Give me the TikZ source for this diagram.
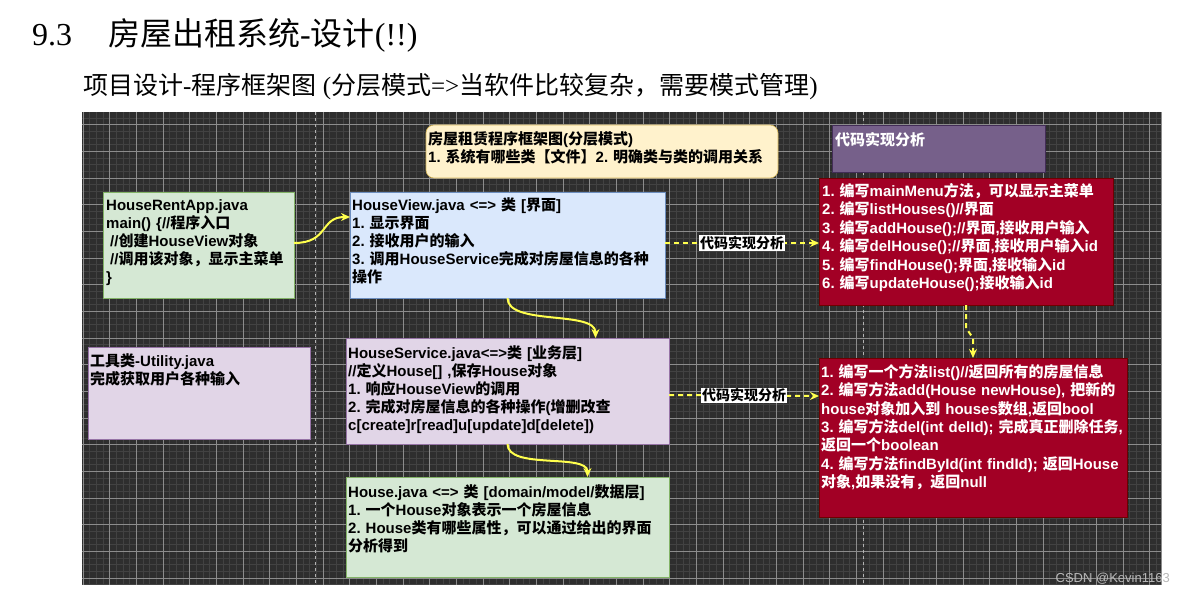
\documentclass[tikz,border=0pt]{standalone}
\usepackage{fontspec}
\setmainfont{Liberation Sans}
\newfontfamily\serifLatin{Liberation Serif}
\newfontfamily\sansLatin{Liberation Sans}
\newfontfamily\cjkfont{Noto Sans CJK SC}
\usetikzlibrary{arrows.meta,calc}

% automatic switch between Latin and CJK fonts
\newXeTeXintercharclass\cjkclass
\newcount\cjkcnt
\cjkcnt="3000
\loop
  \XeTeXcharclass\cjkcnt=\cjkclass
  \advance\cjkcnt by 1
\ifnum\cjkcnt<"3040 \repeat
\cjkcnt="4E00
\loop
  \XeTeXcharclass\cjkcnt=\cjkclass
  \advance\cjkcnt by 1
\ifnum\cjkcnt<"A000 \repeat
\cjkcnt="FF00
\loop
  \XeTeXcharclass\cjkcnt=\cjkclass
  \advance\cjkcnt by 1
\ifnum\cjkcnt<"FFF0 \repeat
\def\cjkswitch{\cjkfont}
\def\latinswitch{\sansLatin}
\XeTeXinterchartoks 0 \cjkclass = {\cjkswitch}
\XeTeXinterchartoks 4095 \cjkclass = {\cjkswitch}
\XeTeXinterchartoks \cjkclass 0 = {\latinswitch}
\XeTeXinterchartoks \cjkclass 4095 = {\latinswitch}
\XeTeXinterchartokenstate=1
\newcommand\serifmode{\def\latinswitch{\serifLatin}\serifLatin}
\frenchspacing

\definecolor{cbg}{HTML}{2E2E2E}
\definecolor{gminorc}{HTML}{424242}
\definecolor{gmajorc}{HTML}{8C8C8C}
\definecolor{cyel}{HTML}{FFF2CC}
\definecolor{cyelD}{HTML}{D6B656}
\definecolor{cblue}{HTML}{DAE8FC}
\definecolor{cblueD}{HTML}{6C8EBF}
\definecolor{cgreen}{HTML}{D5E8D4}
\definecolor{cgreenD}{HTML}{82B366}
\definecolor{cpink}{HTML}{E1D5E7}
\definecolor{cpinkD}{HTML}{9673A6}
\definecolor{cred}{HTML}{A20025}
\definecolor{credD}{HTML}{6F0000}
\definecolor{cpurple}{HTML}{76608A}
\definecolor{cpurpleD}{HTML}{432D57}
\definecolor{carrow}{HTML}{FFFF4D}

\tikzset{
  box/.style={anchor=north west, inner sep=0pt, outer sep=0pt, line width=0.6pt},
  txt/.style={anchor=north west, inner sep=0pt, text width=420pt, align=left,
    font=\bfseries\fontsize{15}{18}\selectfont},
  lbl/.style={fill=white, inner sep=1pt, text=black,
    font=\bfseries\fontsize{14}{16}\selectfont},
  yarrow/.style={draw=carrow, line width=2pt, -{Stealth[length=9pt,width=8pt]}},
  ydash/.style={yarrow, dash pattern=on 5pt off 4pt},
  gminor/.style={draw=gminorc, line width=0.7pt},
  gmajor/.style={draw=gmajorc, line width=1pt},
  guide/.style={draw=white!70!black, line width=0.8pt, dash pattern=on 3pt off 3pt}
}

\begin{document}
\begin{tikzpicture}[x=1pt,y=-1pt]
\useasboundingbox[fill=white] (0,0) rectangle (1184,592);

% ---- headings ----
\node[anchor=base west, inner sep=0pt, font=\serifLatin\fontsize{32}{36}\selectfont] (num) at (32,45) {9.3};
\node[anchor=base west, inner sep=0pt, font=\serifmode\fontsize{32}{36}\selectfont] (title) at (108,45) {房屋出租系统-设计(!!)};
\node[anchor=base west, inner sep=0pt, font=\serifmode\fontsize{25}{28}\selectfont] (sub) at (83,94) {项目设计-程序框架图 (分层模式=>当软件比较复杂，需要模式管理)};

% ---- dark grid canvas ----
\begin{scope}
\clip (82,112) rectangle (1162,585);
\fill[cbg] (82,112) rectangle (1162,585);
\foreach \k in {0,...,162} \draw[gminor] ({83+\k*6.6667},112) -- ({83+\k*6.6667},585);
\foreach \k in {0,...,72} \draw[gminor] (82,{104.67+\k*6.6667}) -- (1162,{104.67+\k*6.6667});
\foreach \k in {0,...,40} \draw[gmajor] ({83+\k*26.6667},112) -- ({83+\k*26.6667},585);
\foreach \k in {0,...,18} \draw[gmajor] (82,{98+\k*26.6667}) -- (1162,{98+\k*26.6667});
\draw[guide] (315,112) -- (315,585);
\draw[guide] (863,112) -- (863,585);
\end{scope}
\draw[gmajor] (1161.5,112) -- (1161.5,585);

% ---- boxes ----
\node[box, fill=cyel, draw=cyelD, rounded corners=8pt, minimum width=352pt, minimum height=53pt] (head) at (426,125) {};
\node[box, fill=cpurple, draw=cpurpleD, minimum width=213pt, minimum height=47pt] (ana) at (832,125) {};
\node[box, fill=cgreen, draw=cgreenD, minimum width=191pt, minimum height=106pt] (app) at (103,192) {};
\node[box, fill=cblue, draw=cblueD, minimum width=315pt, minimum height=106pt] (view) at (350,192) {};
\node[box, fill=cred, draw=credD, minimum width=294pt, minimum height=127pt] (impl1) at (819,178) {};
\node[box, fill=cpink, draw=cpinkD, minimum width=222pt, minimum height=92pt] (util) at (88,347) {};
\node[box, fill=cpink, draw=cpinkD, minimum width=323pt, minimum height=106pt] (svc) at (346,338) {};
\node[box, fill=cred, draw=credD, minimum width=308pt, minimum height=159pt] (impl2) at (819,358) {};
\node[box, fill=cgreen, draw=cgreenD, minimum width=323pt, minimum height=100pt] (house) at (346,477) {};

% ---- box texts ----
\node[txt] (headT) at ($(head.north west)+(2,0)$) {\rule{0pt}{19pt}房屋租赁程序框架图(分层模式)\\1. 系统有哪些类【文件】2. 明确类与类的调用关系};
\node[txt, text=white] (anaT) at ($(ana.north west)+(3,0)$) {\rule{0pt}{20pt}代码实现分析};
\node[txt] (appT) at ($(app.north west)+(3,0)$) {\rule{0pt}{18pt}HouseRentApp.java\\main() \{//程序入口\\\hspace*{4pt}//创建HouseView对象\\\hspace*{4pt}//调用该对象，显示主菜单\\\}};
\node[txt] (viewT) at ($(view.north west)+(2,0)$) {\rule{0pt}{18pt}HouseView.java <=> 类 [界面]\\1. 显示界面\\2. 接收用户的输入\\3. 调用HouseService完成对房屋信息的各种\\操作};
\node[txt, text=white, font=\bfseries\fontsize{15}{18.5}\selectfont] (impl1T) at ($(impl1.north west)+(3,0)$) {\rule{0pt}{18pt}1. 编写mainMenu方法，可以显示主菜单\\2. 编写listHouses()//界面\\3. 编写addHouse();//界面,接收用户输入\\4. 编写delHouse();//界面,接收用户输入id\\5. 编写findHouse();界面,接收输入id\\6. 编写updateHouse();接收输入id};
\node[txt] (utilT) at ($(util.north west)+(2,0)$) {\rule{0pt}{19pt}工具类-Utility.java\\完成获取用户各种输入};
\node[txt] (svcT) at ($(svc.north west)+(2,0)$) {\rule{0pt}{20pt}HouseService.java<=>类 [业务层]\\//定义House[] ,保存House对象\\1. 响应HouseView的调用\\2. 完成对房屋信息的各种操作(增删改查\\c[create]r[read]u[update]d[delete])};
\node[txt, text=white, font=\bfseries\fontsize{15}{18.4}\selectfont] (impl2T) at ($(impl2.north west)+(2,0)$) {\rule{0pt}{19pt}1. 编写一个方法list()//返回所有的房屋信息\\2. 编写方法add(House newHouse), 把新的\\house对象加入到 houses数组,返回bool\\3. 编写方法del(int delId); 完成真正删除任务,\\返回一个boolean\\4. 编写方法findById(int findId); 返回House\\对象,如果没有，返回null};
\node[txt] (houseT) at ($(house.north west)+(2,0)$) {\rule{0pt}{20pt}House.java <=> 类 [domain/model/数据层]\\1. 一个House对象表示一个房屋信息\\2. House类有哪些属性，可以通过给出的界面\\分析得到};

% ---- connectors ----
\draw[yarrow] ($(app.east)+(0,-2)$) .. controls +(35,0) and +(-30,0) .. ($(view.north west)+(0,25)$);
\draw[yarrow] (view.south) .. controls +(0,28) and +(0,-28) .. ($(svc.north)+(88,0)$);
\draw[yarrow] (svc.south) .. controls +(0,26) and +(0,-24) .. ($(house.north)+(80,0)$);
\draw[ydash] ($(view.east)+(0,-2)$) -- node[lbl] (l1) {代码实现分析} ($(impl1.west|-view.east)+(0,-2)$);
\draw[ydash] ($(svc.east)+(0,4)$) -- node[lbl] (l2) {代码实现分析} ($(impl2.west|-svc.east)+(0,5)$);
\draw[ydash] (impl1.south) -- ++(0,23) -- ++(7,10) -- (impl2.north);

% ---- watermark ----
\node[anchor=base east, inner sep=0pt, text=black!28, font=\fontsize{13}{15}\selectfont] (wm) at (1170,582) {CSDN @Kevin1163};
\end{tikzpicture}
\end{document}
